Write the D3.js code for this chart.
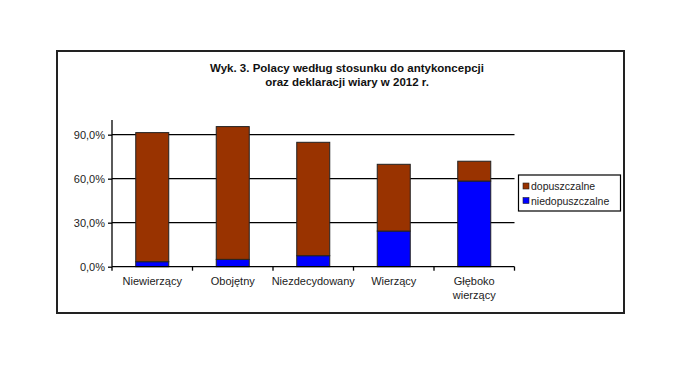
<!DOCTYPE html>
<html>
<head>
<meta charset="utf-8">
<script src="https://cdn.jsdelivr.net/npm/d3@7"></script>
<style>
  body { margin: 0; background: #fff; }
  svg { display: block; font-family: "Liberation Sans", Arial, sans-serif; }
</style>
</head>
<body>
<div id="chart"></div>
<script>
const categories = ['Niewierzący', 'Obojętny', 'Niezdecydowany', 'Wierzący', 'Głęboko wierzący'];
const niedopuszczalne = [3.4, 5.0, 7.5, 24.3, 58.4];
const dopuszczalne = [88.0, 90.5, 77.3, 45.5, 13.5];
const seriesNames = ['dopuszczalne', 'niedopuszczalne'];
const yTicks = [0, 30, 60, 90];

const width = 684, height = 369;
const colors = {dopuszczalne: '#993300', niedopuszczalne: '#0000ff'};

let svg = d3.select('#chart').append('svg')
  .attr('width', width)
  .attr('height', height);

svg.append('rect').attr('width', width).attr('height', height).attr('fill', '#fff');

// outer chart frame
svg.append('rect')
  .attr('x', 57).attr('y', 51)
  .attr('width', 567).attr('height', 262)
  .attr('fill', 'none')
  .attr('stroke', '#222')
  .attr('stroke-width', 2);

// title
let title = svg.append('text')
  .attr('text-anchor', 'middle')
  .style('font-size', '11.5px')
  .style('font-weight', 'bold')
  .attr('fill', '#111');
title.append('tspan').attr('x', 347).attr('y', 72).text('Wyk. 3. Polacy według stosunku do antykoncepcji');
title.append('tspan').attr('x', 347).attr('y', 86).text('oraz deklaracji wiary w 2012 r.');

const x0 = 112, x1 = 514.5;
let x = d3.scaleBand()
  .domain(categories)
  .range([x0, x1])
  .paddingInner(0.59)
  .paddingOuter(0.295);

let y = d3.scaleLinear()
  .domain([0, 100])
  .range([266.7, 120]);

// gridlines
svg.append('g').selectAll('line')
  .data(yTicks.filter(d => d > 0))
  .join('line')
  .attr('x1', x0).attr('x2', x1)
  .attr('y1', d => y(d)).attr('y2', d => y(d))
  .attr('stroke', '#000')
  .attr('stroke-width', 1.3);

// stacked bars
let rows = categories.map((c, i) => ({cat: c, niedopuszczalne: niedopuszczalne[i], dopuszczalne: dopuszczalne[i]}));
let stack = d3.stack().keys(['niedopuszczalne', 'dopuszczalne'])(rows);

svg.append('g').selectAll('g')
  .data(stack)
  .join('g')
  .attr('fill', d => colors[d.key])
  .selectAll('rect')
  .data(d => d)
  .join('rect')
  .attr('x', d => x(d.data.cat))
  .attr('y', d => y(d[1]))
  .attr('width', x.bandwidth())
  .attr('height', d => y(d[0]) - y(d[1]))
  .attr('stroke', '#222')
  .attr('stroke-width', 1);

// y axis
let yAxis = d3.axisLeft(y)
  .tickValues(yTicks)
  .tickSize(4)
  .tickFormat(d => d.toFixed(1).replace('.', ',') + '%');
let gy = svg.append('g')
  .attr('transform', 'translate(' + x0 + ',0)')
  .call(yAxis);
gy.select('.domain').attr('d', 'M0,' + y(0) + 'V' + y(100));
gy.selectAll('path, line').attr('stroke', '#000').attr('stroke-width', 1.3);
gy.selectAll('text').style('font-size', '11px').attr('fill', '#222').attr('x', -7);

// x axis line + tick marks at category boundaries
svg.append('line')
  .attr('x1', x0).attr('x2', x1)
  .attr('y1', y(0)).attr('y2', y(0))
  .attr('stroke', '#000').attr('stroke-width', 1.3);
let bounds = d3.range(categories.length + 1).map(i => x0 + i * x.step());
svg.append('g').selectAll('line')
  .data(bounds)
  .join('line')
  .attr('x1', d => d).attr('x2', d => d)
  .attr('y1', y(0)).attr('y2', y(0) + 4)
  .attr('stroke', '#000').attr('stroke-width', 1.3);

// category labels
svg.append('g').selectAll('text')
  .data(categories)
  .join('text')
  .attr('text-anchor', 'middle')
  .style('font-size', '11px')
  .attr('fill', '#222')
  .each(function(d) {
    let words = d === 'Głęboko wierzący' ? ['Głęboko', 'wierzący'] : [d];
    let t = d3.select(this);
    words.forEach((w, i) => {
      t.append('tspan')
        .attr('x', x(d) + x.bandwidth() / 2)
        .attr('y', 285 + i * 14)
        .text(w);
    });
  });

// legend
let legend = svg.append('g');
legend.append('rect')
  .attr('x', 518.5).attr('y', 175)
  .attr('width', 102).attr('height', 36)
  .attr('fill', '#fff')
  .attr('stroke', '#000')
  .attr('stroke-width', 1.2);
seriesNames.forEach((s, i) => {
  legend.append('rect')
    .attr('x', 523).attr('y', 183 + i * 14.5)
    .attr('width', 6).attr('height', 6)
    .attr('fill', colors[s])
    .attr('stroke', '#222')
    .attr('stroke-width', 0.6);
  legend.append('text')
    .attr('x', 531).attr('y', 190 + i * 14.5)
    .style('font-size', '10.5px')
    .attr('fill', '#222')
    .text(s);
});
</script>
</body>
</html>
